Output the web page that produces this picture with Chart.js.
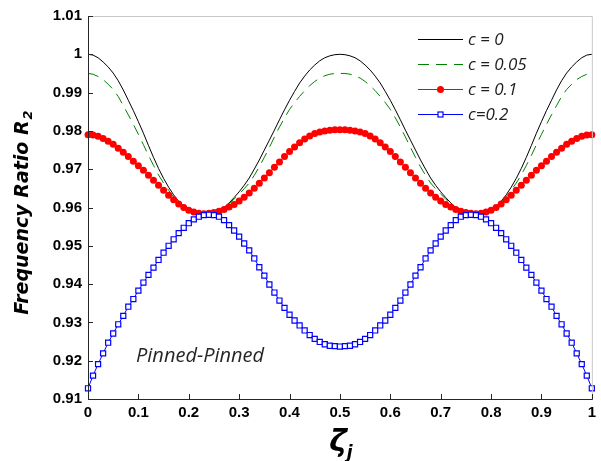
<!DOCTYPE html>
<html>
<head>
<meta charset="utf-8">
<script src="https://cdn.jsdelivr.net/npm/chart.js@4.4.1/dist/chart.umd.min.js"></script>
<style>
  html, body { margin: 0; padding: 0; background: #fff; }
  #wrap { width: 601px; height: 461px; position: relative; }
</style>
</head>
<body>
<div id="wrap"><canvas id="freqChart"></canvas></div>
<script>
// crack position zeta_j (x axis)
const zeta = [
  0.00,0.01,0.02,0.03,0.04,0.05,0.06,0.07,0.08,0.09,
  0.10,0.11,0.12,0.13,0.14,0.15,0.16,0.17,0.18,0.19,
  0.20,0.21,0.22,0.23,0.24,0.25,0.26,0.27,0.28,0.29,
  0.30,0.31,0.32,0.33,0.34,0.35,0.36,0.37,0.38,0.39,
  0.40,0.41,0.42,0.43,0.44,0.45,0.46,0.47,0.48,0.49,
  0.50,0.51,0.52,0.53,0.54,0.55,0.56,0.57,0.58,0.59,
  0.60,0.61,0.62,0.63,0.64,0.65,0.66,0.67,0.68,0.69,
  0.70,0.71,0.72,0.73,0.74,0.75,0.76,0.77,0.78,0.79,
  0.80,0.81,0.82,0.83,0.84,0.85,0.86,0.87,0.88,0.89,
  0.90,0.91,0.92,0.93,0.94,0.95,0.96,0.97,0.98,0.99,
  1.00
];

// c = 0
const r2_c0 = [
  1.0000,0.9998,0.9991,0.9980,0.9967,0.9951,0.9931,0.9907,0.9880,0.9853,
  0.9824,0.9794,0.9762,0.9731,0.9702,0.9676,0.9653,0.9633,0.9616,0.9603,
  0.9594,0.9588,0.9585,0.9584,0.9584,0.9587,0.9592,0.9600,0.9612,0.9626,
  0.9641,0.9658,0.9677,0.9700,0.9724,0.9750,0.9776,0.9802,0.9829,0.9855,
  0.9880,0.9903,0.9925,0.9943,0.9959,0.9972,0.9983,0.9991,0.9996,0.9999,
  1.0000,0.9999,0.9996,0.9991,0.9983,0.9972,0.9959,0.9943,0.9925,0.9903,
  0.9880,0.9855,0.9829,0.9802,0.9776,0.9750,0.9724,0.9700,0.9677,0.9658,
  0.9641,0.9626,0.9612,0.9600,0.9592,0.9587,0.9584,0.9584,0.9585,0.9588,
  0.9594,0.9603,0.9616,0.9633,0.9653,0.9676,0.9702,0.9731,0.9762,0.9794,
  0.9824,0.9853,0.9880,0.9907,0.9931,0.9951,0.9967,0.9980,0.9991,0.9998,
  1.0000
];

// c = 0.05
const r2_c005 = [
  0.9950,0.9948,0.9942,0.9934,0.9922,0.9908,0.9890,0.9866,0.9842,0.9817,
  0.9791,0.9764,0.9736,0.9710,0.9685,0.9664,0.9645,0.9628,0.9614,0.9603,
  0.9595,0.9589,0.9586,0.9585,0.9585,0.9587,0.9592,0.9600,0.9610,0.9622,
  0.9635,0.9649,0.9664,0.9684,0.9706,0.9731,0.9757,0.9784,0.9810,0.9834,
  0.9856,0.9874,0.9890,0.9905,0.9918,0.9929,0.9938,0.9944,0.9948,0.9950,
  0.9950,0.9950,0.9948,0.9944,0.9938,0.9929,0.9918,0.9905,0.9890,0.9874,
  0.9856,0.9834,0.9810,0.9784,0.9757,0.9731,0.9706,0.9684,0.9664,0.9649,
  0.9635,0.9622,0.9610,0.9600,0.9592,0.9587,0.9585,0.9585,0.9586,0.9589,
  0.9595,0.9603,0.9614,0.9628,0.9645,0.9664,0.9685,0.9710,0.9736,0.9764,
  0.9791,0.9817,0.9842,0.9866,0.9890,0.9908,0.9922,0.9934,0.9942,0.9948,
  0.9950
];

// c = 0.1
const r2_c01 = [
  0.9790,0.9789,0.9786,0.9780,0.9773,0.9765,0.9755,0.9744,0.9733,0.9721,
  0.9709,0.9697,0.9684,0.9671,0.9658,0.9645,0.9632,0.9620,0.9609,0.9600,
  0.9593,0.9588,0.9585,0.9584,0.9585,0.9587,0.9590,0.9595,0.9601,0.9608,
  0.9617,0.9627,0.9638,0.9650,0.9663,0.9677,0.9691,0.9705,0.9719,0.9733,
  0.9746,0.9758,0.9769,0.9779,0.9787,0.9793,0.9797,0.9800,0.9802,0.9803,
  0.9803,0.9803,0.9802,0.9800,0.9797,0.9793,0.9787,0.9779,0.9769,0.9758,
  0.9746,0.9733,0.9719,0.9705,0.9691,0.9677,0.9663,0.9650,0.9638,0.9627,
  0.9617,0.9608,0.9601,0.9595,0.9590,0.9587,0.9585,0.9584,0.9585,0.9588,
  0.9593,0.9600,0.9609,0.9620,0.9632,0.9645,0.9658,0.9671,0.9684,0.9697,
  0.9709,0.9721,0.9733,0.9744,0.9755,0.9765,0.9773,0.9780,0.9786,0.9789,
  0.9790
];

// c = 0.2
const r2_c02 = [
  0.9128,0.9161,0.9191,0.9219,0.9247,0.9271,0.9295,0.9317,0.9341,0.9361,
  0.9383,0.9404,0.9424,0.9443,0.9463,0.9482,0.9500,0.9517,0.9533,0.9547,
  0.9559,0.9569,0.9576,0.9580,0.9581,0.9580,0.9576,0.9567,0.9554,0.9540,
  0.9524,0.9506,0.9488,0.9467,0.9444,0.9422,0.9399,0.9378,0.9357,0.9338,
  0.9320,0.9305,0.9292,0.9279,0.9267,0.9257,0.9249,0.9243,0.9239,0.9238,
  0.9237,0.9238,0.9239,0.9243,0.9249,0.9257,0.9267,0.9279,0.9292,0.9305,
  0.9320,0.9338,0.9357,0.9378,0.9399,0.9422,0.9444,0.9467,0.9488,0.9506,
  0.9524,0.9540,0.9554,0.9567,0.9576,0.9580,0.9581,0.9580,0.9576,0.9569,
  0.9559,0.9547,0.9533,0.9517,0.9500,0.9482,0.9463,0.9443,0.9424,0.9404,
  0.9383,0.9361,0.9341,0.9317,0.9295,0.9271,0.9247,0.9219,0.9191,0.9161,
  0.9128
];

const seriesLabels = ['c = 0', 'c = 0.05', 'c = 0.1', 'c=0.2'];

const toXY = (ys) => ys.map((y, i) => ({ x: zeta[i], y: y }));

const tickFont = { family: 'Liberation Sans', size: 15, weight: 'bold' };

// axes, inward ticks, legend and annotations drawn by hand (matlab look)
const decorPlugin = {
  id: 'decor',
  afterDraw(chart) {
    const ctx = chart.ctx;
    const a = chart.chartArea;
    const xs = chart.scales.x, ys = chart.scales.y;
    ctx.save();

    // light box on top / right
    ctx.strokeStyle = '#c8c8c8';
    ctx.lineWidth = 1;
    ctx.beginPath();
    ctx.moveTo(a.left, a.top + 0.5);
    ctx.lineTo(a.right + 0.5, a.top + 0.5);
    ctx.lineTo(a.right + 0.5, a.bottom);
    ctx.stroke();

    // dark left / bottom axes
    ctx.strokeStyle = '#262626';
    ctx.beginPath();
    ctx.moveTo(a.left + 0.5, a.top);
    ctx.lineTo(a.left + 0.5, a.bottom + 0.5);
    ctx.lineTo(a.right + 1, a.bottom + 0.5);
    ctx.stroke();

    // inward ticks
    ctx.beginPath();
    xs.ticks.forEach(t => {
      const px = Math.round(xs.getPixelForValue(t.value)) + 0.5;
      ctx.moveTo(px, a.bottom);
      ctx.lineTo(px, a.bottom - 5);
    });
    ys.ticks.forEach(t => {
      const py = Math.round(ys.getPixelForValue(t.value)) + 0.5;
      ctx.moveTo(a.left, py);
      ctx.lineTo(a.left + 5, py);
    });
    ctx.stroke();

    // legend
    const lx0 = 418, lx1 = 463, rows = [39, 64, 89, 114];
    chart.data.datasets.forEach((ds, i) => {
      const y = rows[i];
      ctx.strokeStyle = ds.borderColor;
      ctx.lineWidth = 1;
      ctx.setLineDash(ds.borderDash || []);
      ctx.beginPath();
      ctx.moveTo(lx0, y + 0.5);
      ctx.lineTo(lx1, y + 0.5);
      ctx.stroke();
      ctx.setLineDash([]);
      const mx = (lx0 + lx1) / 2;
      if (ds.pointStyle === 'circle' && ds.pointRadius > 0) {
        ctx.fillStyle = ds.pointBackgroundColor;
        ctx.beginPath();
        ctx.arc(mx, y + 0.5, 3.5, 0, Math.PI * 2);
        ctx.fill();
      } else if (ds.pointStyle === 'rect') {
        ctx.fillStyle = '#fff';
        ctx.strokeStyle = ds.pointBorderColor;
        ctx.lineWidth = 1.2;
        ctx.fillRect(mx - 2.5, y - 2, 5, 5);
        ctx.strokeRect(mx - 2.5, y - 2, 5, 5);
      }
      ctx.fillStyle = '#1e1e1e';
      ctx.font = 'italic 17px "Open Sans"';
      ctx.textAlign = 'left';
      ctx.textBaseline = 'middle';
      ctx.fillText(ds.label, 468, y + 1);
    });

    // boundary condition note
    ctx.fillStyle = '#262626';
    ctx.font = 'italic 20px "Open Sans"';
    ctx.textAlign = 'left';
    ctx.textBaseline = 'alphabetic';
    ctx.fillText('Pinned-Pinned', 136, 362);

    // y title with subscript
    ctx.fillStyle = '#000';
    ctx.save();
    ctx.translate(23, 213);
    ctx.rotate(-Math.PI / 2);
    const mainFont = 'italic bold 19px "DejaVu Sans"';
    const subFont = 'italic bold 13px "DejaVu Sans"';
    ctx.font = mainFont;
    const main = 'Frequency Ratio R';
    const wMain = ctx.measureText(main).width;
    ctx.font = subFont;
    const wSub = ctx.measureText('2').width;
    const start = -(wMain + wSub) / 2;
    ctx.font = mainFont;
    ctx.textBaseline = 'middle';
    ctx.fillText(main, start, 0);
    ctx.font = subFont;
    ctx.fillText('2', start + wMain + 1, 6);
    ctx.restore();

    // x title: zeta_j
    ctx.font = 'italic bold 30px "DejaVu Sans"';
    const wz = ctx.measureText('ζ').width;
    ctx.textBaseline = 'alphabetic';
    const zx = 342 - (wz + 8) / 2;
    ctx.fillText('ζ', zx, 451);
    ctx.font = 'italic bold 17px "DejaVu Sans"';
    ctx.fillText('j', zx + wz, 458);

    ctx.restore();
  }
};

new Chart(document.getElementById('freqChart'), {
  type: 'line',
  data: {
    datasets: [
      {
        label: seriesLabels[0], data: toXY(r2_c0),
        borderColor: '#000000', borderWidth: 1, pointRadius: 0,
        order: 3, clip: false
      },
      {
        label: seriesLabels[1], data: toXY(r2_c005),
        borderColor: '#008000', borderWidth: 1, borderDash: [11, 7], pointRadius: 0,
        order: 2, clip: false
      },
      {
        label: seriesLabels[2], data: toXY(r2_c01),
        borderColor: '#ff0000', borderWidth: 1,
        pointStyle: 'circle', pointRadius: 3.5, pointBorderWidth: 0,
        pointBackgroundColor: '#ff0000', pointBorderColor: '#ff0000',
        order: 1, clip: false
      },
      {
        label: seriesLabels[3], data: toXY(r2_c02),
        borderColor: '#0000ff', borderWidth: 1,
        pointStyle: 'rect', pointRadius: 3.6, pointBorderWidth: 1.2,
        pointBackgroundColor: '#ffffff', pointBorderColor: '#0000ff',
        order: 0, clip: false
      }
    ]
  },
  options: {
    responsive: true,
    maintainAspectRatio: false,
    animation: false,
    devicePixelRatio: 1,
    layout: { padding: { left: 0, top: 16, right: 7, bottom: 0 } },
    plugins: { legend: { display: false }, tooltip: { enabled: false } },
    scales: {
      x: {
        type: 'linear', min: 0, max: 1,
        grid: { drawOnChartArea: false, drawTicks: false },
        border: { display: false },
        ticks: {
          stepSize: 0.1, color: '#000', font: tickFont, padding: 5, maxRotation: 0,
          callback: v => parseFloat(v.toFixed(1)).toString()
        },
        afterFit: s => { s.height = 62; }
      },
      y: {
        type: 'linear', min: 0.91, max: 1.01,
        grid: { drawOnChartArea: false, drawTicks: false },
        border: { display: false },
        ticks: {
          stepSize: 0.01, color: '#000', font: tickFont, padding: 6,
          callback: v => parseFloat(v.toFixed(2)).toString()
        },
        afterFit: s => { s.width = 88; }
      }
    }
  },
  plugins: [decorPlugin]
});
</script>
</body>
</html>
